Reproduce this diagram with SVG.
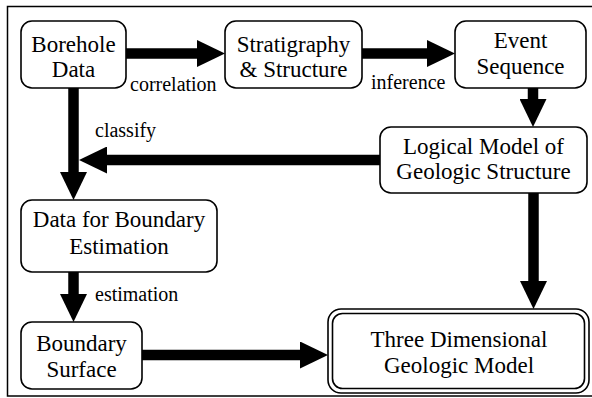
<svg xmlns="http://www.w3.org/2000/svg" width="592" height="398" viewBox="0 0 592 398">
<style>
.box{fill:#fff;stroke:#000;stroke-width:1.6}
.t{font-family:'Liberation Serif','DejaVu Serif',serif;font-size:23px;fill:#000;text-anchor:middle}
.l{font-family:'Liberation Serif','DejaVu Serif',serif;font-size:20px;fill:#000}
.c{stroke:#000;stroke-width:10.5;fill:none;marker-end:url(#ah)}
</style>
<defs>
<marker id="ah" viewBox="0 0 28 27" refX="0" refY="13.5" markerWidth="28" markerHeight="27" markerUnits="userSpaceOnUse" orient="auto">
<path d="M0,0 L28,13.5 L0,27 Z" fill="#000"/>
</marker>
</defs>
<rect x="7.5" y="6.5" width="600" height="389.5" fill="#fff" stroke="#000" stroke-width="1.5"/>
<g id="connectors">
<line class="c" x1="126" y1="53.5" x2="197" y2="53.5"/>
<line class="c" x1="362" y1="53.5" x2="427" y2="53.5"/>
<line class="c" x1="533" y1="88" x2="533" y2="99"/>
<line class="c" x1="380" y1="160" x2="107" y2="160"/>
<line class="c" x1="73.5" y1="88" x2="73.5" y2="172"/>
<line class="c" x1="73.5" y1="272" x2="73.5" y2="294"/>
<line class="c" x1="142" y1="355" x2="300" y2="355"/>
<line class="c" x1="533.5" y1="193" x2="533.5" y2="281"/>
<text class="l" x="130" y="91">correlation</text>
<text class="l" x="371" y="89">inference</text>
<text class="l" x="95" y="137">classify</text>
<text class="l" x="95" y="301">estimation</text>
</g>
<g id="borehole">
<rect class="box" x="21" y="21" width="105" height="67" rx="11"/>
<text class="t" x="73.5" y="52">Borehole</text>
<text class="t" x="73.5" y="77">Data</text>
</g>
<g id="stratigraphy">
<rect class="box" x="225" y="21" width="137" height="67" rx="11"/>
<text class="t" x="293.5" y="52">Stratigraphy</text>
<text class="t" x="293.5" y="77">&amp; Structure</text>
</g>
<g id="event">
<rect class="box" x="455" y="21" width="131" height="67" rx="11"/>
<text class="t" x="520.5" y="48">Event</text>
<text class="t" x="520.5" y="74">Sequence</text>
</g>
<g id="logical">
<rect class="box" x="380" y="127" width="207" height="66" rx="11"/>
<text class="t" x="483.5" y="154">Logical Model of</text>
<text class="t" x="483.5" y="179">Geologic Structure</text>
</g>
<g id="databoundary">
<rect class="box" x="21" y="200" width="196" height="72" rx="11"/>
<text class="t" x="119" y="227">Data for Boundary</text>
<text class="t" x="119" y="254">Estimation</text>
</g>
<g id="boundarysurface">
<rect class="box" x="21" y="322" width="121" height="67" rx="11"/>
<text class="t" x="81.5" y="351">Boundary</text>
<text class="t" x="81.5" y="377">Surface</text>
</g>
<g id="threed">
<rect class="box" x="328" y="309" width="261" height="84" rx="13"/>
<rect class="box" x="332.5" y="313.5" width="252" height="75" rx="10"/>
<text class="t" x="459" y="347">Three Dimensional</text>
<text class="t" x="459" y="373">Geologic Model</text>
</g>
</svg>
